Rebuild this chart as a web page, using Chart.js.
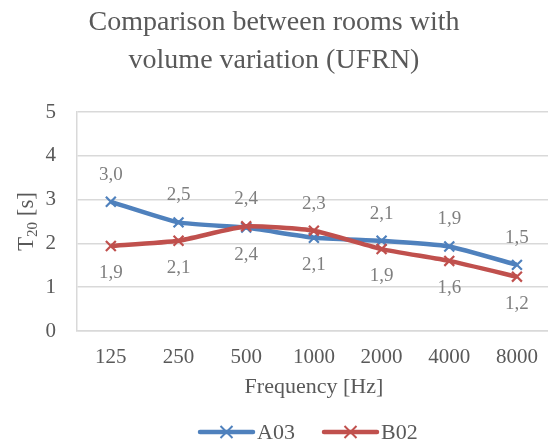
<!DOCTYPE html>
<html>
<head>
<meta charset="utf-8">
<script src="https://cdn.jsdelivr.net/npm/chart.js@4"></script>
<style>
  html, body { margin: 0; padding: 0; background: #fff; overflow: hidden; }
  #wrap { width: 560px; height: 443px; }
</style>
</head>
<body>
<div id="wrap"><canvas id="chart" width="560" height="443"></canvas></div>
<script>
const frequencies = ['125', '250', '500', '1000', '2000', '4000', '8000'];
const a03 = [2.95, 2.48, 2.36, 2.13, 2.06, 1.93, 1.51];
const b02 = [1.94, 2.06, 2.39, 2.29, 1.87, 1.60, 1.24];
const yTicks = [0, 1, 2, 3, 4, 5];
const titleLines = ['Comparison between rooms with', 'volume variation (UFRN)'];

const BLUE = '#4F81BD';
const RED = '#C0504D';
const TEXT = '#595959';
const SERIF = '"Liberation Serif", "Times New Roman", serif';

// title, y title with subscript, data labels and legend drawn by hand
const extras = {
    id: 'extras',
    afterDatasetsDraw(chart) {
        const ctx = chart.ctx;
        const area = chart.chartArea;
        ctx.save();

        // data labels: higher value above, lower below
        ctx.font = '19px ' + SERIF;
        ctx.fillStyle = '#7F7F7F';
        ctx.textAlign = 'center';
        ctx.textBaseline = 'middle';
        const m0 = chart.getDatasetMeta(0).data;
        const m1 = chart.getDatasetMeta(1).data;
        frequencies.forEach((f, i) => {
            const pa = m0[i], pb = m1[i];
            const aUp = a03[i] >= b02[i];
            const fmt = v => v.toFixed(1).replace('.', ',');
            ctx.fillText(fmt(a03[i]), pa.x, pa.y + (aUp ? -27 : 27));
            ctx.fillText(fmt(b02[i]), pb.x, pb.y + (aUp ? 27 : -27));
        });

        // chart title
        ctx.fillStyle = TEXT;
        ctx.font = '28px ' + SERIF;
        ctx.textBaseline = 'alphabetic';
        ctx.fillText(titleLines[0], 274, 30);
        ctx.fillText(titleLines[1], 274, 68);

        // y axis title: T20 [s]
        ctx.translate(25, (area.top + area.bottom) / 2);
        ctx.rotate(-Math.PI / 2);
        ctx.textAlign = 'left';
        const big = '23px ' + SERIF, small = '15px ' + SERIF;
        ctx.font = big;
        const wT = ctx.measureText('T').width;
        const wS = ctx.measureText(' [s]').width;
        ctx.font = small;
        const w20 = ctx.measureText('20').width;
        let x = -(wT + w20 + wS) / 2;
        ctx.font = big;
        ctx.fillText('T', x, 8);
        x += wT;
        ctx.font = small;
        ctx.fillText('20', x, 12);
        x += w20;
        ctx.font = big;
        ctx.fillText(' [s]', x, 8);
        ctx.restore();

        // legend
        ctx.save();
        const ly = 432;
        const items = [
            { label: 'A03', color: BLUE, x0: 200 },
            { label: 'B02', color: RED, x0: 324 }
        ];
        items.forEach(it => {
            ctx.strokeStyle = it.color;
            ctx.lineWidth = 4.5;
            ctx.lineCap = 'round';
            ctx.beginPath();
            ctx.moveTo(it.x0, ly);
            ctx.lineTo(it.x0 + 53, ly);
            ctx.stroke();
            ctx.lineWidth = 2;
            ctx.lineCap = 'butt';
            const cx = it.x0 + 26.5, r = 6;
            ctx.beginPath();
            ctx.moveTo(cx - r, ly - r); ctx.lineTo(cx + r, ly + r);
            ctx.moveTo(cx + r, ly - r); ctx.lineTo(cx - r, ly + r);
            ctx.stroke();
            ctx.fillStyle = TEXT;
            ctx.font = '22px ' + SERIF;
            ctx.textAlign = 'left';
            ctx.textBaseline = 'middle';
            ctx.fillText(it.label, it.x0 + 57, ly + 1);
        });
        ctx.restore();
    }
};

new Chart(document.getElementById('chart'), {
    type: 'line',
    data: {
        labels: frequencies,
        datasets: [
            {
                label: 'A03', data: a03, borderColor: BLUE, backgroundColor: BLUE,
                borderWidth: 4.5, pointStyle: 'crossRot', pointRadius: 7,
                pointBorderWidth: 2.2, pointBorderColor: BLUE, tension: 0.15, order: 2
            },
            {
                label: 'B02', data: b02, borderColor: RED, backgroundColor: RED,
                borderWidth: 4.5, pointStyle: 'crossRot', pointRadius: 7,
                pointBorderWidth: 2.2, pointBorderColor: RED, tension: 0.15, order: 1
            }
        ]
    },
    options: {
        responsive: false,
        animation: false,
        layout: { padding: { top: 112, left: 0, right: 2, bottom: 0 } },
        plugins: { legend: { display: false }, title: { display: false }, tooltip: { enabled: false } },
        scales: {
            x: {
                offset: true,
                grid: { display: false, drawTicks: false },
                border: { color: '#D9D9D9', width: 1.5 },
                ticks: { color: TEXT, font: { family: SERIF, size: 21 }, padding: 14, maxRotation: 0 },
                title: { display: true, text: 'Frequency [Hz]', color: TEXT, font: { family: SERIF, size: 22 }, padding: { top: 4, bottom: 43 } },
                afterFit: s => { s.height = 112; }
            },
            y: {
                min: 0, max: 5,
                afterBuildTicks: s => { s.ticks = yTicks.map(v => ({ value: v })); },
                grid: { color: '#D9D9D9', lineWidth: 1.5, drawTicks: false },
                border: { color: '#D9D9D9', width: 1.5 },
                ticks: { color: TEXT, font: { family: SERIF, size: 21 }, padding: 21 },
                afterFit: s => { s.width = 77; }
            }
        }
    },
    plugins: [extras]
});
</script>
</body>
</html>
